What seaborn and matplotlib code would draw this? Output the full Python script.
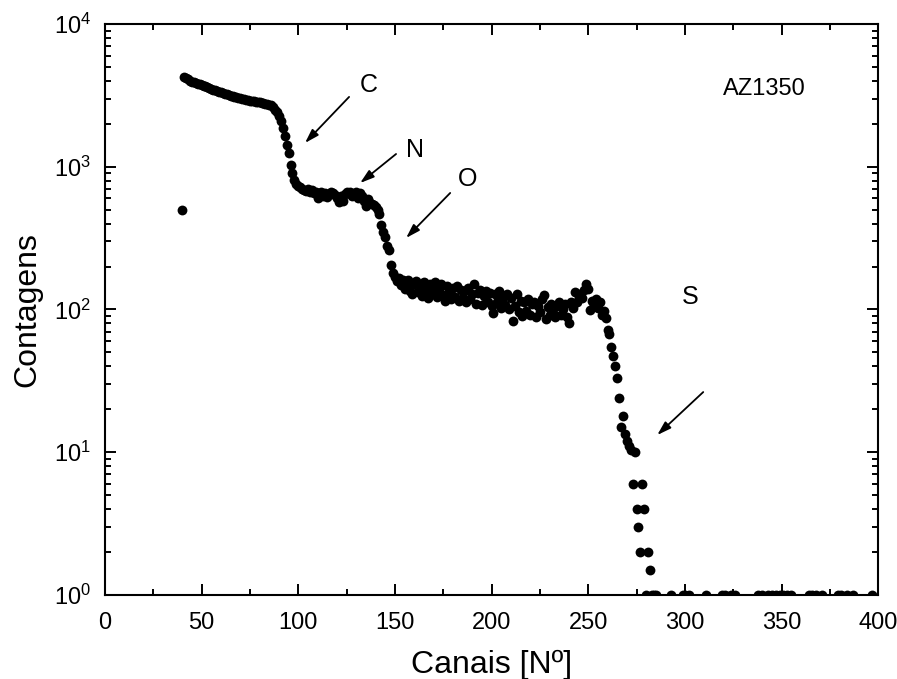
"""
RBS spectrum of AZ1350 resist: counts per channel on a log scale,
with the C, N, O and S edges marked.
"""

import matplotlib

matplotlib.use("Agg")
import matplotlib.pyplot as plt
import numpy as np
import pandas as pd
import seaborn as sns
from matplotlib.ticker import LogLocator, MultipleLocator

# Data
# channels 40..99
counts_a = [
    500, 4250, 4150, 4100, 4000, 3950, 3900, 3850, 3800, 3800,
    3750, 3700, 3650, 3600, 3550, 3500, 3450, 3450, 3400, 3350,
    3350, 3300, 3250, 3250, 3200, 3150, 3150, 3100, 3100, 3050,
    3050, 3000, 3000, 2950, 2950, 2900, 2900, 2900, 2850, 2850,
    2850, 2800, 2800, 2750, 2750, 2700, 2700, 2600, 2500, 2400,
    2250, 2100, 1880, 1650, 1420, 1240, 1030, 900, 810, 760,
]
# channels 100..149
counts_b = [
    730, 720, 700, 690, 680, 700, 660, 690, 650, 670,
    600, 640, 660, 620, 650, 610, 640, 660, 650, 630,
    600, 570, 620, 580, 640, 660, 650, 670, 620, 640,
    660, 600, 650, 620, 580, 530, 590, 560, 550, 540,
    520, 500, 470, 390, 350, 320, 280, 260, 205, 180,
]
# channels 150..209
counts_c = [
    170, 158, 165, 148, 162, 140, 150, 160, 135, 128,
    152, 158, 132, 148, 125, 155, 138, 120, 150, 130,
    142, 155, 122, 140, 150, 126, 115, 145, 133, 118,
    142, 122, 145, 115, 138, 120, 135, 112, 142, 118,
    128, 150, 110, 130, 138, 108, 125, 135, 112, 130,
    105, 94, 128, 112, 135, 102, 122, 108, 128, 100,
]
# channels 210..261
counts_d = [
    120, 83, 105, 128, 96, 115, 90, 112, 98, 118,
    92, 110, 112, 88, 106, 96, 118, 126, 86, 104,
    92, 110, 95, 88, 106, 112, 92, 100, 110, 88,
    80, 112, 102, 133, 112, 122, 128, 120, 138, 150,
    140, 99, 115, 108, 118, 102, 113, 92, 97, 87,
    72, 67,
]
# S edge
tail_ch = [262, 263, 264, 265, 266, 267, 268, 269, 270, 271,
           272, 273, 274, 275, 276, 277, 278, 279, 281, 282]
tail_counts = [55, 47, 40, 33, 24, 15, 18, 13.5, 12, 11,
               10.4, 6, 10, 4, 3, 2, 6, 4, 2, 1.5]
# single counts above the S edge
ones_ch = [280, 283, 284, 285, 293, 299, 300, 302, 311, 319,
           321, 324, 326, 338, 340, 343, 345, 347, 349, 351,
           353, 355, 364, 366, 368, 371, 379, 381, 384, 387, 397]

labels = ["C", "N", "O", "S"]
label_xy = [(136.6, 3740), (160.5, 1310), (187.4, 821), (302.8, 122)]
arrow_tail = [(126.3, 3083), (150.6, 1228), (178.6, 655), (309.5, 26.4)]
arrow_head = [(103.5, 1467), (132.0, 769), (155.8, 317), (285.7, 13.2)]

main_counts = counts_a + counts_b + counts_c + counts_d
df = pd.DataFrame({
    "canal": list(np.arange(40, 40 + len(main_counts))) + tail_ch + ones_ch,
    "contagens": main_counts + tail_counts + [1] * len(ones_ch),
})

sns.set_theme(style="ticks")
plt.rcParams["font.family"] = ["Liberation Sans", "DejaVu Sans"]
plt.rcParams["mathtext.default"] = "regular"
plt.rcParams["text.color"] = "black"
plt.rcParams["axes.labelcolor"] = "black"

fig = plt.figure(figsize=(8.97, 6.79), dpi=100)
ax = fig.add_axes([0.117, 0.1237, 0.862, 0.841])

sns.scatterplot(data=df, x="canal", y="contagens", ax=ax,
                color="black", s=50, linewidth=0, clip_on=True)

ax.set_yscale("log")
ax.set_xlim(0, 400)
ax.set_ylim(1, 1e4)
ax.xaxis.set_major_locator(MultipleLocator(50))
ax.xaxis.set_minor_locator(MultipleLocator(25))
ax.yaxis.set_major_locator(LogLocator(base=10, numticks=10))
ax.yaxis.set_minor_locator(LogLocator(base=10, subs=np.arange(2, 10), numticks=20))

ax.tick_params(which="both", direction="in", top=True, right=True,
               width=1.4, colors="black", labelsize=17)
ax.tick_params(axis="x", pad=12)
ax.tick_params(axis="y", pad=10)
ax.tick_params(which="major", length=8)
ax.tick_params(which="minor", length=4)
for sp in ax.spines.values():
    sp.set_linewidth(1.5)
    sp.set_color("black")

ax.set_xlabel("Canais [Nº]", fontsize=23, labelpad=12)
ax.set_ylabel("Contagens", fontsize=23, labelpad=8)

for lab, pos, t, h in zip(labels, label_xy, arrow_tail, arrow_head):
    ax.text(pos[0], pos[1], lab, fontsize=18, ha="center", va="center")
    ax.annotate("", xy=h, xytext=t,
                arrowprops=dict(arrowstyle="-|>,head_length=0.7,head_width=0.22",
                                color="black", lw=1.3, shrinkA=0, shrinkB=0))

ax.text(341.1, 3506, "AZ1350", fontsize=17, ha="center", va="center")

fig.savefig("out.png", dpi=100)
